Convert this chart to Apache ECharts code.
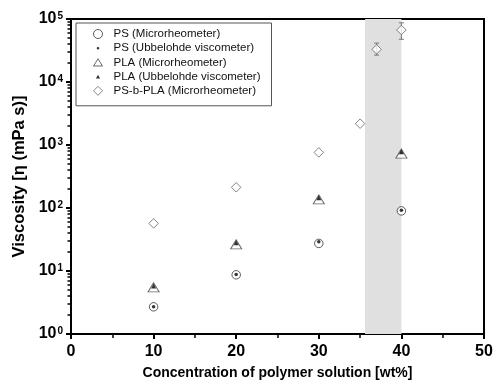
<!DOCTYPE html>
<html>
<head>
<meta charset="utf-8">
<script src="https://cdn.jsdelivr.net/npm/echarts@6/dist/echarts.min.js"></script>
<style>html,body{margin:0;padding:0;background:#fff}#c{width:493px;height:381px}</style>
</head>
<body>
<div id="c"></div>
<script>
// ---- data ----
const conc = [10, 20, 30, 40];
const psMicro = [2.7, 8.7, 27.4, 90];
const psUbbel = [2.7, 8.8, 29, 92];
const plaMicro = [5.5, 26.5, 137, 730];
const plaUbbel = [5.8, 28, 145, 780];
const blockConc = [10, 20, 30, 35, 37, 40];
const blockMicro = [57, 213, 763, 2180, 33000, 66900];
const errConc = [37, 40];
const errLow = [26700, 47600];
const errHigh = [41400, 87000];
const shadeRange = [35.6, 40];
const xTicks = [0, 10, 20, 30, 40, 50];
const yDecades = [1, 10, 100, 1000, 10000, 100000];
const legendNames = ['PS (Microrheometer)', 'PS (Ubbelohde viscometer)', 'PLA (Microrheometer)', 'PLA (Ubbelohde viscometer)', 'PS-b-PLA (Microrheometer)'];

const font = 'Liberation Sans, Arial, sans-serif';
// minor ticks of the log axis (2..9 in each decade), placed on a log10 helper axis
const minorLog = [];
for (let d = 0; d < 5; d++) for (let m = 2; m <= 9; m++) minorLog.push(Math.log10(m * Math.pow(10, d)));

const pair = (xs, ys) => xs.map((x, i) => [x, ys[i]]);

const chart = echarts.init(document.getElementById('c'));
chart.setOption({
  animation: false,
  grid: {left: 71, right: 9, top: 19, bottom: 47, show: true, borderColor: '#000', borderWidth: 2,
    backgroundColor: 'transparent', containLabel: false, outerBoundsMode: 'none'},
  legend: {
    orient: 'vertical', left: 76, top: 23,
    borderColor: '#555', borderWidth: 1, padding: [5, 11, 9, 17],
    itemWidth: 9, itemHeight: 9, itemGap: 2.2,
    itemStyle: {borderWidth: 1},
    textStyle: {fontFamily: font, fontSize: 11.5, color: '#111', lineHeight: 12, padding: [0, 0, 0, 6]},
    data: [
      {name: legendNames[0]},
      {name: legendNames[1], icon: 'path://M0,0M10,10M3.6,5A1.4,1.4,0,1,1,6.4,5A1.4,1.4,0,1,1,3.6,5Z'},
      {name: legendNames[2], icon: 'path://M5,1L10,9L0,9Z'},
      {name: legendNames[3], icon: 'path://M0,0M10,10M5,3L7.3,7.2L2.7,7.2Z'},
      {name: legendNames[4]}
    ]
  },
  xAxis: {
    type: 'value', min: 0, max: 50, interval: 10,
    axisLine: {lineStyle: {color: '#000', width: 2}},
    axisTick: {show: true, inside: false, length: 5, lineStyle: {color: '#000', width: 2}},
    minorTick: {show: true, splitNumber: 2, length: 4, lineStyle: {color: '#000', width: 1.5}},
    splitLine: {show: false},
    axisLabel: {fontFamily: font, fontSize: 16, fontWeight: 'bold', color: '#000', margin: 10,
      customValues: xTicks},
    name: 'Concentration of polymer solution [wt%]', nameLocation: 'middle', nameGap: 32,
    nameTextStyle: {fontFamily: font, fontSize: 14, fontWeight: 'bold', color: '#000'}
  },
  yAxis: [{
    type: 'log', logBase: 10, min: 1, max: 100000,
    axisLine: {show: true, lineStyle: {color: '#000', width: 2}},
    axisTick: {show: true, inside: false, length: 5, lineStyle: {color: '#000', width: 2}},
    splitLine: {show: false},
    axisLabel: {
      margin: 8,
      formatter: v => '{b|10}{s|' + Math.round(Math.log10(v)) + '}',
      rich: {
        b: {fontFamily: font, fontSize: 16, fontWeight: 'bold', color: '#000'},
        s: {fontFamily: font, fontSize: 10, fontWeight: 'bold', color: '#000', padding: [0, 0, 5, 1]}
      }
    },
    name: 'Viscosity [\u03b7 (mPa s)]', nameLocation: 'middle', nameGap: 41,
    nameTextStyle: {fontFamily: font, fontSize: 16.5, fontWeight: 'bold', color: '#000'}
  }, {
    type: 'value', min: 0, max: 5, position: 'left',
    axisLine: {show: false},
    axisTick: {show: true, inside: false, length: 3.5, customValues: minorLog, lineStyle: {color: '#000', width: 1.5}},
    axisLabel: {show: false},
    splitLine: {show: false}
  }],
  series: [
    {
      name: 'shade', type: 'scatter', data: [], silent: true,
      markArea: {silent: true, itemStyle: {color: '#e0e0e0'},
        data: [[{xAxis: shadeRange[0]}, {xAxis: shadeRange[1]}]]}
    },
    {
      name: 'err', type: 'custom', z: 3,
      data: errConc.map((x, i) => [x, errLow[i], errHigh[i]]),
      renderItem: (params, api) => {
        const lo = api.coord([api.value(0), api.value(1)]);
        const hi = api.coord([api.value(0), api.value(2)]);
        const w = 2.5;
        const st = {stroke: '#777', lineWidth: 1};
        return {type: 'group', children: [
          {type: 'line', shape: {x1: lo[0], y1: lo[1], x2: hi[0], y2: hi[1]}, style: st},
          {type: 'line', shape: {x1: lo[0] - w, y1: lo[1], x2: lo[0] + w, y2: lo[1]}, style: st},
          {type: 'line', shape: {x1: hi[0] - w, y1: hi[1], x2: hi[0] + w, y2: hi[1]}, style: st}
        ]};
      }
    },
    {name: legendNames[0], type: 'scatter', symbol: 'circle', symbolSize: 8.5,
      itemStyle: {color: '#fff', borderColor: '#333', borderWidth: 1}, data: pair(conc, psMicro), z: 4},
    {name: legendNames[1], type: 'scatter', symbol: 'circle', symbolSize: 3.5,
      itemStyle: {color: '#000', borderWidth: 0}, data: pair(conc, psUbbel), z: 6},
    {name: legendNames[2], type: 'scatter', symbol: 'triangle', symbolSize: [11, 9],
      itemStyle: {color: '#fff', borderColor: '#444', borderWidth: 1}, data: pair(conc, plaMicro), z: 4},
    {name: legendNames[3], type: 'scatter', symbol: 'triangle', symbolSize: 5,
      itemStyle: {color: '#000', borderWidth: 0}, data: pair(conc, plaUbbel), z: 6},
    {name: legendNames[4], type: 'scatter', symbol: 'diamond', symbolSize: 9.5,
      itemStyle: {color: '#fff', borderColor: '#666', borderWidth: 1}, data: pair(blockConc, blockMicro), z: 5}
  ]
});
</script>
</body>
</html>
